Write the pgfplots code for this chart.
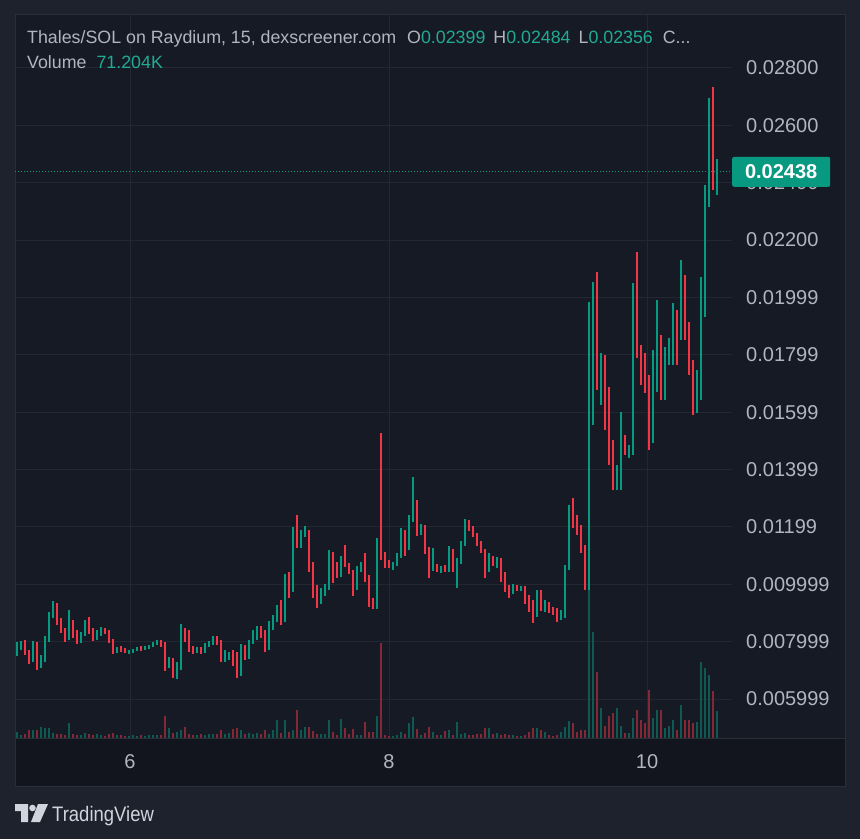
\documentclass[border=0pt]{standalone}
\usepackage{pgfplots}
\pgfplotsset{compat=1.18}
\usepackage{pgfplotstable}
\usepackage{graphicx}
\usepackage{fontspec}
\setmainfont{Liberation Sans}
\definecolor{outerbg}{HTML}{1E222D}
\definecolor{panebg}{HTML}{161A25}
\definecolor{stripbg}{HTML}{12151E}
\definecolor{gridc}{HTML}{232732}
\definecolor{framec}{HTML}{2A2E39}
\definecolor{upc}{HTML}{089981}
\definecolor{dnc}{HTML}{F23645}
\definecolor{upv}{HTML}{0F5953}
\definecolor{dnv}{HTML}{842835}
\definecolor{txt}{HTML}{B2B5BE}
\definecolor{valc}{HTML}{22AB94}
\definecolor{logoc}{HTML}{D1D4DC}

\pgfplotstableread{
i o h l c v
0 0.00771 0.00799 0.00750 0.00789 15.8
1 0.00789 0.00803 0.00771 0.00796 7.9
2 0.00796 0.00806 0.00754 0.00764 10.6
3 0.00764 0.00771 0.00722 0.00736 21.1
4 0.00736 0.00803 0.00729 0.00789 21.1
5 0.00789 0.00799 0.00701 0.00715 21.1
6 0.00715 0.00754 0.00708 0.00736 29.0
7 0.00736 0.00820 0.00729 0.00806 26.4
8 0.00806 0.00904 0.00799 0.00893 26.4
9 0.00893 0.00942 0.00883 0.00925 13.2
10 0.00925 0.00935 0.00858 0.00876 10.6
11 0.00876 0.00883 0.00830 0.00841 10.6
12 0.00841 0.00848 0.00799 0.00813 7.9
13 0.00813 0.00911 0.00806 0.00869 39.6
14 0.00869 0.00876 0.00813 0.00830 10.6
15 0.00830 0.00841 0.00792 0.00803 7.9
16 0.00803 0.00834 0.00796 0.00827 7.9
17 0.00827 0.00876 0.00820 0.00865 13.2
18 0.00865 0.00886 0.00827 0.00841 10.6
19 0.00841 0.00848 0.00803 0.00813 7.9
20 0.00813 0.00841 0.00806 0.00827 10.6
21 0.00827 0.00851 0.00820 0.00841 7.9
22 0.00841 0.00848 0.00827 0.00834 5.3
23 0.00834 0.00841 0.00796 0.00803 10.6
24 0.00803 0.00809 0.00757 0.00768 13.2
25 0.00768 0.00782 0.00761 0.00778 7.9
26 0.00778 0.00785 0.00764 0.00771 7.9
27 0.00771 0.00778 0.00761 0.00764 5.3
28 0.00764 0.00771 0.00757 0.00768 5.3
29 0.00768 0.00775 0.00761 0.00771 7.9
30 0.00771 0.00782 0.00768 0.00778 5.3
31 0.00778 0.00785 0.00768 0.00775 7.9
32 0.00775 0.00785 0.00771 0.00782 5.3
33 0.00782 0.00789 0.00775 0.00785 7.9
34 0.00785 0.00799 0.00782 0.00796 7.9
35 0.00796 0.00806 0.00789 0.00799 7.9
36 0.00799 0.00806 0.00782 0.00792 7.9
37 0.00792 0.00799 0.00698 0.00715 58.1
38 0.00715 0.00747 0.00708 0.00736 26.4
39 0.00736 0.00743 0.00674 0.00694 13.2
40 0.00694 0.00729 0.00670 0.00708 15.8
41 0.00708 0.00862 0.00701 0.00834 21.1
42 0.00834 0.00848 0.00799 0.00820 29.0
43 0.00820 0.00841 0.00764 0.00778 10.6
44 0.00778 0.00785 0.00757 0.00771 7.9
45 0.00771 0.00782 0.00761 0.00775 7.9
46 0.00775 0.00782 0.00757 0.00764 10.6
47 0.00764 0.00796 0.00761 0.00789 7.9
48 0.00789 0.00803 0.00782 0.00796 10.6
49 0.00796 0.00820 0.00789 0.00813 10.6
50 0.00813 0.00820 0.00789 0.00799 10.6
51 0.00799 0.00806 0.00729 0.00747 21.1
52 0.00747 0.00771 0.00729 0.00754 10.6
53 0.00754 0.00764 0.00736 0.00757 13.2
54 0.00757 0.00771 0.00715 0.00729 23.8
55 0.00729 0.00764 0.00674 0.00694 26.4
56 0.00694 0.00792 0.00681 0.00778 21.1
57 0.00778 0.00789 0.00736 0.00747 10.6
58 0.00747 0.00806 0.00740 0.00799 13.2
59 0.00799 0.00841 0.00792 0.00830 10.6
60 0.00830 0.00855 0.00806 0.00844 13.2
61 0.00844 0.00855 0.00813 0.00823 10.6
62 0.00823 0.00841 0.00764 0.00778 21.1
63 0.00778 0.00872 0.00771 0.00862 10.6
64 0.00862 0.00893 0.00841 0.00883 21.1
65 0.00883 0.00928 0.00869 0.00918 47.5
66 0.00918 0.00945 0.00858 0.00876 13.2
67 0.00876 0.01036 0.00869 0.01008 47.5
68 0.01008 0.01043 0.00952 0.00980 15.8
69 0.00980 0.01200 0.00973 0.01172 21.1
70 0.01172 0.01242 0.01127 0.01155 73.9
71 0.01155 0.01189 0.01127 0.01172 21.1
72 0.01172 0.01203 0.01165 0.01182 29.0
73 0.01182 0.01189 0.01043 0.01067 29.0
74 0.01067 0.01078 0.00952 0.00980 18.5
75 0.00980 0.00998 0.00918 0.00945 10.6
76 0.00945 0.00987 0.00932 0.00973 10.6
77 0.00973 0.01001 0.00959 0.00987 10.6
78 0.00987 0.01120 0.00980 0.01102 47.5
79 0.01102 0.01113 0.01005 0.01043 15.8
80 0.01043 0.01078 0.01022 0.01033 7.9
81 0.01033 0.01099 0.01026 0.01085 50.2
82 0.01085 0.01137 0.01060 0.01067 26.4
83 0.01067 0.01074 0.01036 0.01043 10.6
84 0.01043 0.01050 0.00959 0.00987 23.8
85 0.00987 0.01064 0.00980 0.01050 7.9
86 0.01050 0.01078 0.01043 0.01067 7.9
87 0.01067 0.01109 0.01008 0.01022 42.2
88 0.01022 0.01033 0.00921 0.00945 15.8
89 0.00945 0.00952 0.00914 0.00925 15.8
90 0.00925 0.01162 0.00914 0.01148 58.1
91 0.01148 0.01528 0.01085 0.01099 250.8
92 0.01099 0.01113 0.01057 0.01067 7.9
93 0.01067 0.01085 0.01057 0.01064 5.3
94 0.01064 0.01078 0.01050 0.01074 5.3
95 0.01074 0.01109 0.01064 0.01099 7.9
96 0.01099 0.01196 0.01092 0.01182 15.8
97 0.01182 0.01189 0.01099 0.01127 10.6
98 0.01127 0.01242 0.01120 0.01224 39.6
99 0.01224 0.01374 0.01217 0.01277 55.4
100 0.01277 0.01294 0.01169 0.01189 23.8
101 0.01189 0.01210 0.01172 0.01196 7.9
102 0.01196 0.01207 0.01106 0.01120 13.2
103 0.01120 0.01130 0.01022 0.01057 29.0
104 0.01057 0.01127 0.01047 0.01064 15.8
105 0.01064 0.01071 0.01043 0.01054 7.9
106 0.01054 0.01064 0.01040 0.01057 7.9
107 0.01057 0.01067 0.01043 0.01050 18.5
108 0.01050 0.01134 0.01043 0.01113 21.1
109 0.01113 0.01123 0.01043 0.01057 7.9
110 0.01057 0.01092 0.00987 0.01078 42.2
111 0.01078 0.01151 0.01071 0.01141 10.6
112 0.01141 0.01228 0.01134 0.01214 13.2
113 0.01214 0.01224 0.01186 0.01196 7.9
114 0.01196 0.01203 0.01165 0.01172 7.9
115 0.01172 0.01179 0.01134 0.01144 10.6
116 0.01144 0.01151 0.01109 0.01116 10.6
117 0.01116 0.01123 0.01022 0.01050 26.4
118 0.01050 0.01109 0.01043 0.01092 26.4
119 0.01092 0.01099 0.01064 0.01074 10.6
120 0.01074 0.01095 0.01057 0.01085 13.2
121 0.01085 0.01092 0.01008 0.01022 7.9
122 0.01022 0.01043 0.00973 0.00987 10.6
123 0.00987 0.00998 0.00952 0.00973 7.9
124 0.00973 0.01001 0.00966 0.00991 7.9
125 0.00991 0.00998 0.00977 0.00984 5.3
126 0.00984 0.00994 0.00977 0.00987 5.3
127 0.00987 0.00994 0.00932 0.00945 7.9
128 0.00945 0.00963 0.00904 0.00918 15.8
129 0.00918 0.00945 0.00865 0.00893 26.4
130 0.00893 0.00980 0.00886 0.00966 26.4
131 0.00966 0.00980 0.00907 0.00921 21.1
132 0.00921 0.00945 0.00904 0.00932 15.8
133 0.00932 0.00938 0.00900 0.00911 7.9
134 0.00911 0.00921 0.00893 0.00904 5.3
135 0.00904 0.00918 0.00869 0.00883 7.9
136 0.00883 0.00911 0.00876 0.00904 15.8
137 0.00904 0.01067 0.00883 0.01057 29.0
138 0.01057 0.01277 0.01050 0.01259 44.9
139 0.01259 0.01301 0.01196 0.01217 39.6
140 0.01217 0.01242 0.01172 0.01196 15.8
141 0.01196 0.01207 0.01109 0.01127 21.1
142 0.01127 0.01137 0.00980 0.01001 21.1
143 0.01001 0.01984 0.00980 0.01887 477.8
144 0.01887 0.02054 0.01555 0.02009 279.8
145 0.02009 0.02089 0.01678 0.01695 174.2
146 0.01695 0.01806 0.01625 0.01775 79.2
147 0.01775 0.01800 0.01538 0.01573 31.7
148 0.01573 0.01688 0.01416 0.01451 58.1
149 0.01451 0.01503 0.01329 0.01364 66.0
150 0.01364 0.01416 0.01329 0.01399 79.2
151 0.01399 0.01601 0.01329 0.01503 31.7
152 0.01503 0.01521 0.01451 0.01468 13.2
153 0.01468 0.01486 0.01440 0.01475 13.2
154 0.01475 0.02051 0.01451 0.01991 52.8
155 0.01991 0.02159 0.01789 0.01817 73.9
156 0.01817 0.01834 0.01695 0.01730 47.5
157 0.01730 0.01806 0.01667 0.01695 39.6
158 0.01695 0.01730 0.01468 0.01503 126.7
159 0.01503 0.01817 0.01493 0.01800 52.8
160 0.01800 0.01991 0.01671 0.01852 73.9
161 0.01852 0.01869 0.01643 0.01660 73.9
162 0.01660 0.01827 0.01643 0.01817 26.4
163 0.01817 0.01859 0.01765 0.01834 31.7
164 0.01834 0.01981 0.01765 0.01939 47.5
165 0.01939 0.01956 0.01765 0.01869 21.1
166 0.01869 0.02131 0.01852 0.02026 87.1
167 0.02026 0.02078 0.01852 0.01887 47.5
168 0.01887 0.01915 0.01730 0.01747 47.5
169 0.01747 0.01782 0.01590 0.01625 39.6
170 0.01625 0.01747 0.01597 0.01660 42.2
171 0.01660 0.02071 0.01643 0.02026 200.6
172 0.02026 0.02392 0.01932 0.02340 184.8
173 0.02340 0.02695 0.02315 0.02671 166.3
174 0.02671 0.02734 0.02375 0.02399 124.1
175 0.02399 0.02484 0.02356 0.02438 71.2
}\candles

\pgfplotsset{
  upsel/.style={restrict expr to domain={\thisrow{c}-\thisrow{o}}{0:1}},
  dnsel/.style={restrict expr to domain={\thisrow{c}-\thisrow{o}}{-1:-0.000001}},
  base/.style={at={(15pt,101pt)}, anchor=south west, scale only axis,
    width=717pt, height=723pt, xmin=-0.5, xmax=178.75},
  pricey/.style={ymin=0.004643, ymax=0.029847},
  stick/.style 2 args={draw=none, mark=none, #1,
    error bars/.cd, y dir=both, y explicit, error mark=none,
    error bar style={draw=#2, line width=1.2pt, line cap=butt}},
  body/.style 2 args={draw=none, mark=none, #1,
    error bars/.cd, y dir=both, y explicit, error mark=none,
    error bar style={draw=#2, line width=2.6pt, line cap=butt}},
}

\begin{document}
\begin{tikzpicture}[x=1pt,y=1pt]
\useasboundingbox (0,0) rectangle (860,839);
\fill[outerbg] (0,0) rectangle (860,839);
\fill[panebg] (15,53) rectangle (845,824);
\fill[stripbg] (15,53) rectangle (845,101);
\draw[framec, line width=1pt] (15,53) rectangle (845,824);
\draw[framec, line width=1pt] (15,101) -- (845,101);

% grid and scales
\begin{axis}[base, pricey,
  axis line style={draw=none},
  xtick={28.25,93,157.5}, xticklabels={6,8,10},
  ytick={0.006,0.008,0.010,0.012,0.014,0.016,0.018,0.020,0.022,0.024,0.026,0.028},
  yticklabels={0.005999,0.007999,0.009999,0.01199,0.01399,0.01599,0.01799,0.01999,0.02200,0.02400,0.02600,0.02800},
  yticklabel pos=right,
  major tick length=0pt,
  xmajorgrids, ymajorgrids,
  grid style={gridc, line width=1pt},
  tick label style={text=txt, font=\fontsize{20}{20}\selectfont},
  yticklabel style={anchor=west, inner sep=0pt, xshift=14pt},
  xticklabel style={anchor=center, inner sep=0pt, yshift=-24pt},
]
\end{axis}

% volume
\begin{axis}[base, hide axis, ymin=0, ymax=1909]
\addplot[ycomb, upv, line width=2.6pt, mark=none, upsel] table[x=i, y=v] {\candles};
\addplot[ycomb, dnv, line width=2.6pt, mark=none, dnsel] table[x=i, y=v] {\candles};
\end{axis}

% candles
\begin{axis}[base, pricey, hide axis, clip mode=individual]
\addplot[stick={upsel}{upc}]
  table[x=i, y expr=(\thisrow{h}+\thisrow{l})/2, y error expr=(\thisrow{h}-\thisrow{l})/2] {\candles};
\addplot[stick={dnsel}{dnc}]
  table[x=i, y expr=(\thisrow{h}+\thisrow{l})/2, y error expr=(\thisrow{h}-\thisrow{l})/2] {\candles};
\addplot[body={upsel}{upc}]
  table[x=i, y expr=(\thisrow{o}+\thisrow{c})/2, y error expr=abs(\thisrow{c}-\thisrow{o})/2] {\candles};
\addplot[body={dnsel}{dnc}]
  table[x=i, y expr=(\thisrow{o}+\thisrow{c})/2, y error expr=abs(\thisrow{c}-\thisrow{o})/2] {\candles};
\addplot[upc, line width=1pt, dash pattern=on 1pt off 2pt] coordinates {(-0.5,0.02438) (178.75,0.02438)};
\node[fill=upc, rounded corners=2pt, anchor=west, minimum width=98pt, minimum height=30pt,
  inner sep=0pt, text=white, font=\bfseries\fontsize{20}{20}\selectfont]
  at (axis cs:178.75,0.02438) {0.02438};
\end{axis}

% header text
\node[anchor=base west, inner sep=0pt, text=txt, font=\fontsize{17.8}{20}\selectfont] at (27,795)
  {Thales/SOL on Raydium, 15, dexscreener.com\hspace{11pt}O\textcolor{valc}{0.02399}\hspace{8pt}H\textcolor{valc}{0.02484}\hspace{8pt}L\textcolor{valc}{0.02356}\hspace{10pt}C...};
\node[anchor=base west, inner sep=0pt, text=txt, font=\fontsize{17.8}{20}\selectfont] at (27,770)
  {Volume\hspace{10pt}\textcolor{valc}{71.204K}};

% TradingView logo
\fill[logoc] (15,35) -- (28,35) -- (28,17) -- (21,17) -- (21,28) -- (15,28) -- cycle;
\fill[logoc] (32.5,31) circle (3.3);
\fill[logoc] (38,35) -- (48,35) -- (40,17) -- (31,17) -- cycle;
\node[anchor=base west, inner sep=0pt, text=logoc] at (52,18)
  {\scalebox{0.88}[1]{\fontsize{21}{21}\selectfont TradingView}};
\end{tikzpicture}
\end{document}
